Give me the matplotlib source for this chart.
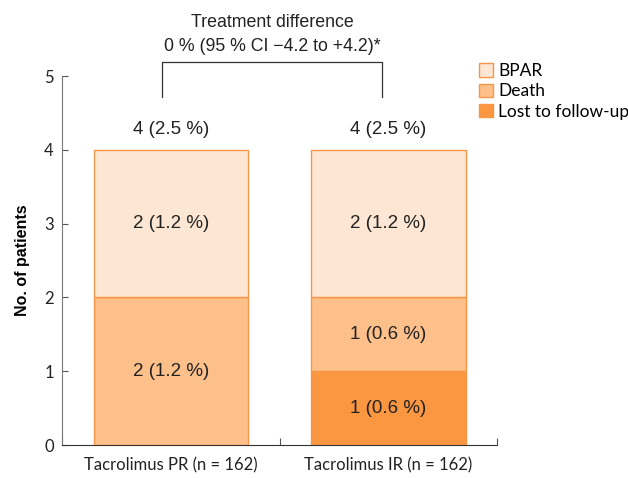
import numpy as np
import matplotlib.pyplot as plt

groups = ['Tacrolimus PR (n = 162)', 'Tacrolimus IR (n = 162)']
segments = ['Lost to follow-up', 'Death', 'BPAR']
lost = [0, 1]
death = [2, 1]
bpar = [2, 2]
seg_labels = {
    'Lost to follow-up': ['', '1 (0.6 %)'],
    'Death': ['2 (1.2 %)', '1 (0.6 %)'],
    'BPAR': ['2 (1.2 %)', '2 (1.2 %)'],
}
total_labels = ['4 (2.5 %)', '4 (2.5 %)']
colors = {'BPAR': '#FDE6D3', 'Death': '#FDC08A', 'Lost to follow-up': '#FB9741'}
edge = '#F79646'

fig = plt.figure(figsize=(6.28, 4.78), dpi=100)
ax = fig.add_axes([0.099, 0.069, 0.693, 0.772])

x = np.arange(len(groups))
width = 0.71
bottom = np.zeros(len(groups))
handles = {}
for name, vals in zip(segments, [lost, death, bpar]):
    vals = np.array(vals, dtype=float)
    bars = ax.bar(x, vals, width, bottom=bottom, color=colors[name],
                  edgecolor=edge, linewidth=1.0, label=name)
    handles[name] = bars
    for i, v in enumerate(vals):
        if v > 0 and seg_labels[name][i]:
            ax.text(x[i], bottom[i] + v / 2, seg_labels[name][i], ha='center',
                    va='center', fontsize=13.5, family='Liberation Sans', color='#222222')
    bottom += vals

for i, t in enumerate(total_labels):
    ax.text(x[i], bottom[i] + 0.27, t, ha='center', va='center', fontsize=13.5,
            family='Liberation Sans', color='#222222')

# bracket
bl, br = x[0] - 0.04, x[1] - 0.03
ax.plot([bl, bl, br, br], [4.72, 5.19, 5.19, 4.72], color='#333333', lw=0.9,
        clip_on=False)
xm = (bl + br) / 2
ax.text(xm, 5.72, 'Treatment difference', ha='center', va='center', fontsize=12.8,
        family='Liberation Sans', color='#222222')
ax.text(xm, 5.40, '0 % (95 % CI \u22124.2 to +4.2)*', ha='center', va='center',
        fontsize=12.8, family='Liberation Sans', color='#222222')

ax.set_xlim(-0.5, 1.5)
ax.set_ylim(0, 5)
ax.set_yticks(range(6))
ax.set_xticks([-0.5, 0.5, 1.5])
ax.set_xticklabels([])
ax.set_xticks(x, minor=True)
ax.set_xticklabels(groups, minor=True, fontsize=12, family='Lato', color='#222222')
ax.tick_params(axis='x', which='minor', length=0, pad=9)
ax.tick_params(axis='x', which='major', length=5, direction='in', color='#555555')
ax.tick_params(axis='y', length=4, direction='in', labelsize=12, color='#555555',
               labelcolor='#222222', pad=6)
for lab in ax.get_yticklabels():
    lab.set_family('Lato')
ax.spines['top'].set_visible(False)
ax.spines['right'].set_visible(False)
ax.spines['left'].set_color('#777777')
ax.spines['bottom'].set_color('#333333')
ax.set_ylabel('No. of patients', fontsize=11.5, fontweight='bold', family='Liberation Sans',
              labelpad=10)

leg = ax.legend([handles[n] for n in ['BPAR', 'Death', 'Lost to follow-up']],
                ['BPAR', 'Death', 'Lost to follow-up'],
                loc='upper left', bbox_to_anchor=(0.958, 1.035), frameon=False,
                prop={'family': 'Lato', 'size': 12.5}, handlelength=0.8, handleheight=0.8,
                handletextpad=0.3, labelspacing=0.25, borderaxespad=0, borderpad=0)

fig.savefig('out.png', dpi=100)
